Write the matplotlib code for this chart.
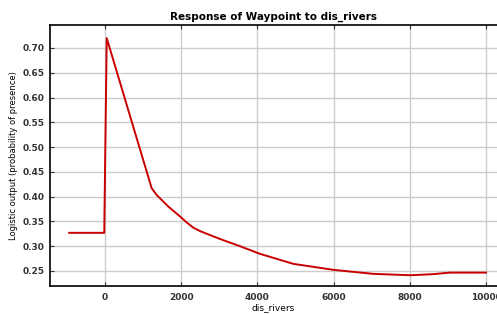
import matplotlib
matplotlib.use("Agg")
import matplotlib.pyplot as plt

dis_rivers = [-940, -20, 45, 1225, 1356, 1662, 1969, 2143, 2318, 2493, 3018, 3543,
              4068, 4942, 5993, 7042, 8005, 8600, 9055, 10000]
logistic_output = [0.327, 0.327, 0.720, 0.417, 0.4034, 0.380, 0.360, 0.348, 0.3375,
                   0.3305, 0.3146, 0.300, 0.2846, 0.2644, 0.2523, 0.2442, 0.2414,
                   0.2435, 0.2467, 0.2467]
x_ticks = [0, 2000, 4000, 6000, 8000, 10000]
y_ticks = [0.25, 0.30, 0.35, 0.40, 0.45, 0.50, 0.55, 0.60, 0.65, 0.70]

fig = plt.figure(figsize=(4.97, 3.14), dpi=100)
ax = fig.add_axes([0.1006, 0.0892, 0.8994, 0.8312])

ax.plot(dis_rivers, logistic_output, color="#c80000", lw=1.4, zorder=3)

ax.set_xlim(-1444, 10290)
ax.set_ylim(0.2197, 0.7464)
ax.set_xticks(x_ticks)
ax.set_yticks(y_ticks)
ax.set_xticklabels([str(t) for t in x_ticks])
ax.set_yticklabels([f"{t:.2f}" for t in y_ticks])
ax.grid(True, color="#cccccc", lw=1.0, zorder=0)
ax.set_axisbelow(True)

for s in ["left", "bottom", "top"]:
    ax.spines[s].set_color("black")
    ax.spines[s].set_linewidth(1.2)
ax.spines["right"].set_visible(False)

ax.tick_params(axis="both", labelsize=6.5, colors="#333333", length=3, width=0.8,
               direction="in", pad=4)
ax.tick_params(axis="x", top=True, pad=5)
for lab in ax.get_xticklabels() + ax.get_yticklabels():
    lab.set_fontweight("bold")
    lab.set_color("#333333")

ax.set_title("Response of Waypoint to dis_rivers", fontsize=7.5, fontweight="bold", pad=4)
ax.set_xlabel("dis_rivers", fontsize=6.5, labelpad=1)
ax.set_ylabel("Logistic output (probability of presence)", fontsize=6, labelpad=3)

fig.savefig("out.png", dpi=100)
